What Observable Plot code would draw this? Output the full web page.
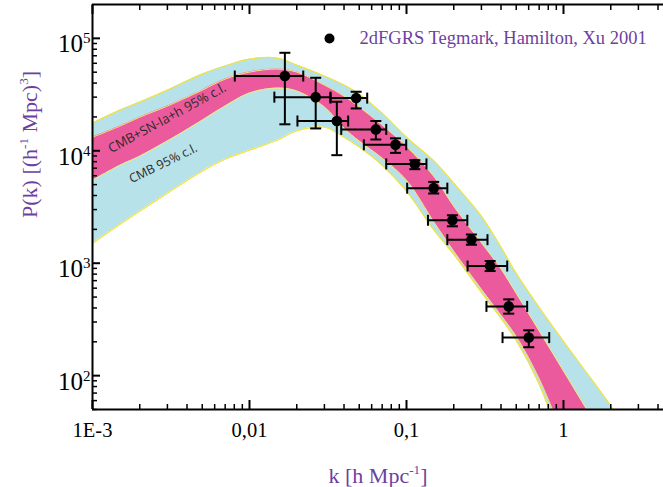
<!DOCTYPE html>
<html><head><meta charset="utf-8">
<script src="https://cdn.jsdelivr.net/npm/d3@7"></script>
<script src="https://cdn.jsdelivr.net/npm/@observablehq/plot@0.6"></script>
<style>body{margin:0;background:#fff} #chart{width:663px;height:487px}</style>
</head><body><div id="chart"></div>
<script>
// Band boundaries (95% c.l.) sampled along k [h/Mpc]
const kGrid = [0.001, 0.0015, 0.002, 0.003, 0.005, 0.007, 0.01, 0.015, 0.02, 0.03, 0.04, 0.05, 0.07, 0.1, 0.15, 0.2, 0.3, 0.4, 0.5, 0.7, 1, 1.5, 2, 3];
const cmbHi = [17600, 23000, 27100, 34600, 48100, 56700, 65400, 66800, 57800, 46200, 38400, 31900, 21600, 13200, 8080, 5150, 2620, 1390, 813, 405, 202, 94, 54, 24];
const cmbLo = [1500, 2220, 2900, 4190, 6580, 8420, 10100, 12400, 15000, 16200, 13200, 10800, 7440, 4370, 1960, 1200, 551, 323, 206, 84, 22, 5, 2, 0.5];
const snHi = [13200, 16600, 19900, 25000, 34600, 43400, 50100, 53300, 50100, 38400, 30600, 24500, 16900, 10900, 5870, 3210, 1520, 888, 540, 250, 110, 43, 22, 9];
const snLo = [5470, 7440, 8950, 12200, 18700, 25000, 32600, 36100, 34000, 24500, 15900, 12200, 8590, 5470, 2310, 1280, 586, 344, 223, 94, 28, 6, 2.5, 0.6];

// 2dFGRS points (Tegmark, Hamilton, Xu 2001)
const dataK   = [0.0168, 0.0264, 0.0478, 0.0360, 0.0638, 0.0851, 0.113, 0.149, 0.196, 0.259, 0.341, 0.448, 0.601];
const dataKLo = [0.00806, 0.0144, 0.0328, 0.0202, 0.0384, 0.0535, 0.0743, 0.101, 0.137, 0.182, 0.245, 0.323, 0.409];
const dataKHi = [0.0220, 0.0328, 0.0562, 0.0425, 0.0743, 0.0996, 0.134, 0.182, 0.244, 0.328, 0.438, 0.587, 0.811];
const dataP   = [46200, 30000, 29400, 18400, 15500, 11300, 7640, 4650, 2410, 1620, 944, 413, 218];
const dataPLo = [17200, 15800, 23800, 9140, 12600, 9580, 6860, 4170, 2130, 1460, 852, 356, 179];
const dataPHi = [74400, 44600, 33500, 27300, 18400, 12900, 8250, 5290, 2670, 1800, 1046, 477, 253];

// Ticks and labels
const xMajor = [0.001, 0.01, 0.1, 1];
const xMajorLabels = ["1E-3", "0,01", "0,1", "1"];
const xMinor = [2,3,4,5,6,7,8,9].flatMap(m => [m*0.001, m*0.01, m*0.1, m]).filter(v => v < 4.3);
const yMajor = [100, 1000, 10000, 100000];
const yMinor = [5,6,7,8,9].map(m => m*10).concat([2,3,4,5,6,7,8,9].flatMap(m => [m*100, m*1000, m*10000]));
const bandNames = ["CMB+SN-Ia+h 95% c.l.", "CMB 95% c.l."];
const legendName = "2dFGRS Tegmark, Hamilton, Xu 2001";
const xTitle = "k [h Mpc^-1]";
const yTitle = "P(k) [(h^-1 Mpc)^3]";

const bands = kGrid.map((k, i) => ({k, cmbHi: cmbHi[i], cmbLo: cmbLo[i], snHi: snHi[i], snLo: snLo[i]}));
const points = dataK.map((k, i) => ({k, kLo: dataKLo[i], kHi: dataKHi[i], p: dataP[i], pLo: dataPLo[i], pHi: dataPHi[i]}));

const cyan = "#b8e2e9", pink = "#ea5a9d", yellow = "#f2e23c", purple = "#6d3f9f";
const hCap = {draw(ctx, size) { const r = Math.sqrt(size / Math.PI); ctx.moveTo(-r, 0); ctx.lineTo(r, 0); }};
const vCap = {draw(ctx, size) { const r = Math.sqrt(size / Math.PI); ctx.moveTo(0, -r); ctx.lineTo(0, r); }};
const curve = "catmull-rom";

const chart = Plot.plot({
  width: 663, height: 487,
  marginLeft: 92, marginRight: 0, marginTop: 4, marginBottom: 78,
  style: {fontFamily: "'Liberation Serif', 'Times New Roman', serif", background: "white", color: "black"},
  x: {type: "log", domain: [0.001, 4.335]},
  y: {type: "log", domain: [50, 200000]},
  marks: [
    Plot.areaY(bands, {x: "k", y1: "cmbLo", y2: "cmbHi", fill: cyan, curve, clip: true}),
    Plot.lineY(bands, {x: "k", y: "cmbHi", stroke: yellow, strokeWidth: 1.2, curve, clip: true}),
    Plot.lineY(bands, {x: "k", y: "cmbLo", stroke: yellow, strokeWidth: 1.2, curve, clip: true}),
    Plot.areaY(bands, {x: "k", y1: "snLo", y2: "snHi", fill: pink, curve, clip: true}),
    Plot.lineY(bands, {x: "k", y: "snHi", stroke: "#f4e87a", strokeWidth: 1, curve, clip: true}),
    Plot.lineY(bands, {x: "k", y: "snLo", stroke: "#f4e87a", strokeWidth: 1, curve, clip: true}),
    Plot.text([bandNames[0]], {x: [0.00299], y: [19500], text: d => d, rotate: -28.5, fontSize: 13, fontFamily: "'Open Sans', sans-serif", fill: "#2b2b2b"}),
    Plot.text([bandNames[1]], {x: [0.00282], y: [7700], text: d => d, rotate: -26, fontSize: 12.5, fontFamily: "'Open Sans', sans-serif", fill: "#2b2b2b"}),
    Plot.ruleX(points, {x: "k", y1: "pLo", y2: "pHi", stroke: "black", strokeWidth: 2}),
    Plot.ruleY(points, {y: "p", x1: "kLo", x2: "kHi", stroke: "black", strokeWidth: 2}),
    Plot.dot(points, {x: "k", y: "pLo", symbol: hCap, r: 5.5, fill: "none", stroke: "black", strokeWidth: 2}),
    Plot.dot(points, {x: "k", y: "pHi", symbol: hCap, r: 5.5, fill: "none", stroke: "black", strokeWidth: 2}),
    Plot.dot(points, {x: "kLo", y: "p", symbol: vCap, r: 5.5, fill: "none", stroke: "black", strokeWidth: 2}),
    Plot.dot(points, {x: "kHi", y: "p", symbol: vCap, r: 5.5, fill: "none", stroke: "black", strokeWidth: 2}),
    Plot.dot(points, {x: "k", y: "p", r: 5.3, fill: "black"}),
    // legend
    Plot.dot([legendName], {frameAnchor: "top-left", dx: 237, dy: 34, r: 5, fill: "black"}),
    Plot.text([legendName], {frameAnchor: "top-left", dx: 267, dy: 34, text: d => d, textAnchor: "start", lineAnchor: "middle", fontSize: 18.5, fill: purple}),
    // frame
    Plot.ruleX([0.001], {stroke: "black", strokeWidth: 2}),
    Plot.ruleY([50], {stroke: "black", strokeWidth: 2}),
    Plot.ruleY([200000], {stroke: "black", strokeWidth: 2}),
    // ticks (inward)
    Plot.axisX(xMinor, {anchor: "bottom", tickSize: -5, tickFormat: () => "", label: null, strokeWidth: 1.5}),
    Plot.axisX(xMajor, {anchor: "bottom", tickSize: -9, tickFormat: () => "", label: null, strokeWidth: 2}),
    Plot.axisX(xMinor, {anchor: "top", tickSize: -5, tickFormat: () => "", label: null, strokeWidth: 1.5}),
    Plot.axisX(xMajor, {anchor: "top", tickSize: -9, tickFormat: () => "", label: null, strokeWidth: 2}),
    Plot.axisY(yMinor, {anchor: "left", tickSize: -5, tickFormat: () => "", label: null, strokeWidth: 1.5}),
    Plot.axisY(yMajor, {anchor: "left", tickSize: -8, tickFormat: () => "", label: null, strokeWidth: 2}),
    // tick labels
    Plot.axisX(xMajor, {anchor: "bottom", tickSize: 0, tickPadding: 13, tickFormat: d => xMajorLabels[xMajor.indexOf(d)], label: null, fontSize: 20.5}),
    Plot.axisY(yMajor, {anchor: "left", tickSize: 0, tickPadding: 2, tickFormat: d => "10^" + Math.round(Math.log10(d)), label: null, fontSize: 25, dy: 6}),
    // axis titles
    Plot.text([xTitle], {frameAnchor: "bottom", dy: 66, text: d => d, fontSize: 22, fill: purple, lineAnchor: "middle", ariaLabel: "x-title"}),
    Plot.text([yTitle], {frameAnchor: "left", dx: -63, dy: 11, rotate: -90, text: d => d, fontSize: 22, fill: purple, lineAnchor: "middle", ariaLabel: "y-title"})
  ]
});
document.getElementById("chart").appendChild(chart);

// superscripts: "a^b" -> a<tspan>b</tspan>
function supify(textEl, supSize) {
  const s = textEl.textContent;
  if (!s.includes("^")) return;
  textEl.textContent = "";
  const parts = s.split(/(\^-?\d+)/);
  let shifted = 0;
  for (const part of parts) {
    if (!part) continue;
    const t = document.createElementNS("http://www.w3.org/2000/svg", "tspan");
    if (part.startsWith("^")) {
      t.textContent = part.slice(1);
      t.setAttribute("font-size", supSize);
      t.setAttribute("dy", -9);
      shifted = 9;
    } else {
      t.textContent = part;
      if (shifted) { t.setAttribute("dy", shifted); shifted = 0; }
    }
    textEl.appendChild(t);
  }
}
chart.querySelectorAll("text").forEach(t => supify(t, "0.6em"));
</script>
</body></html>
